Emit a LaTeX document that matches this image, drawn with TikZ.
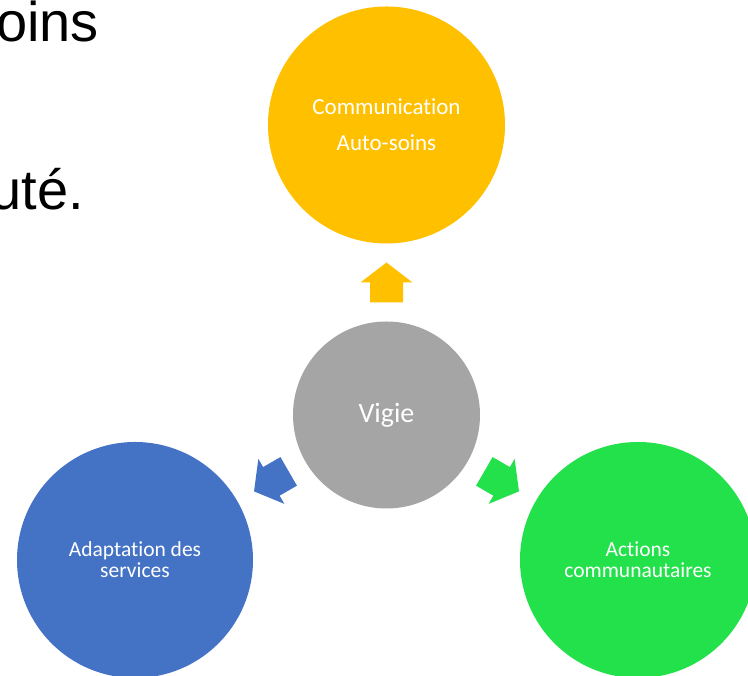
\documentclass[tikz,border=0pt]{standalone}
\usepackage{fontspec}
\setmainfont{Carlito}[Ligatures={NoCommon}]
\newfontfamily\arialfont{Liberation Sans}
\usetikzlibrary{calc}
\definecolor{cyellow}{HTML}{FFC000}
\definecolor{cgray}{HTML}{A5A5A5}
\definecolor{cblue}{HTML}{4472C4}
\definecolor{cgreen}{HTML}{22E14A}
\tikzset{
  bubble/.style={circle, inner sep=0pt, text=white, align=center},
  slidetext/.style={inner sep=0pt, anchor=base east, font=\arialfont\fontsize{56}{60}\selectfont},
  pics/blockarrow/.style={code={
    \fill[#1] (20,0) -- (0,26) -- (0,16.5) -- (-20,16.5) -- (-20,-16.5) -- (0,-16.5) -- (0,-26) -- cycle;}}
}
\begin{document}
\begin{tikzpicture}[x=1pt,y=1pt]
\useasboundingbox (0,0) rectangle (748,676);
\clip (0,0) rectangle (748,676);
\fill[white] (0,0) rectangle (748,676);
% slide text fragments
\node[slidetext] (t1) at (99,634) {oins};
\node[slidetext] (t2) at (84,466) {uté.};
% circles
\node[bubble, fill=cyellow, minimum size=237pt, font=\fontsize{23}{36}\selectfont] (top) at (386.5,551) {Communication\\Auto-soins};
\node[bubble, fill=cgray, minimum size=187pt, font=\fontsize{28}{32}\selectfont] (vigie) at (386.5,261) {Vigie};
\node[bubble, fill=cblue, minimum size=236pt, font=\fontsize{21.5}{21}\selectfont] (left) at (135,116) {Adaptation des\\services};
\node[bubble, fill=cgreen, minimum size=236pt, font=\fontsize{21.5}{21}\selectfont] (right) at (638,116) {Actions\\communautaires};
% block arrows
\pic[rotate=90] at ($(vigie.north)!0.5!(top.south)$) {blockarrow=cyellow};
\pic[rotate=210] at ($(vigie.210)!0.5!(left.30)$) {blockarrow=cblue};
\pic[rotate=-30] at ($(vigie.-30)!0.5!(right.150)$) {blockarrow=cgreen};
\end{tikzpicture}
\end{document}
